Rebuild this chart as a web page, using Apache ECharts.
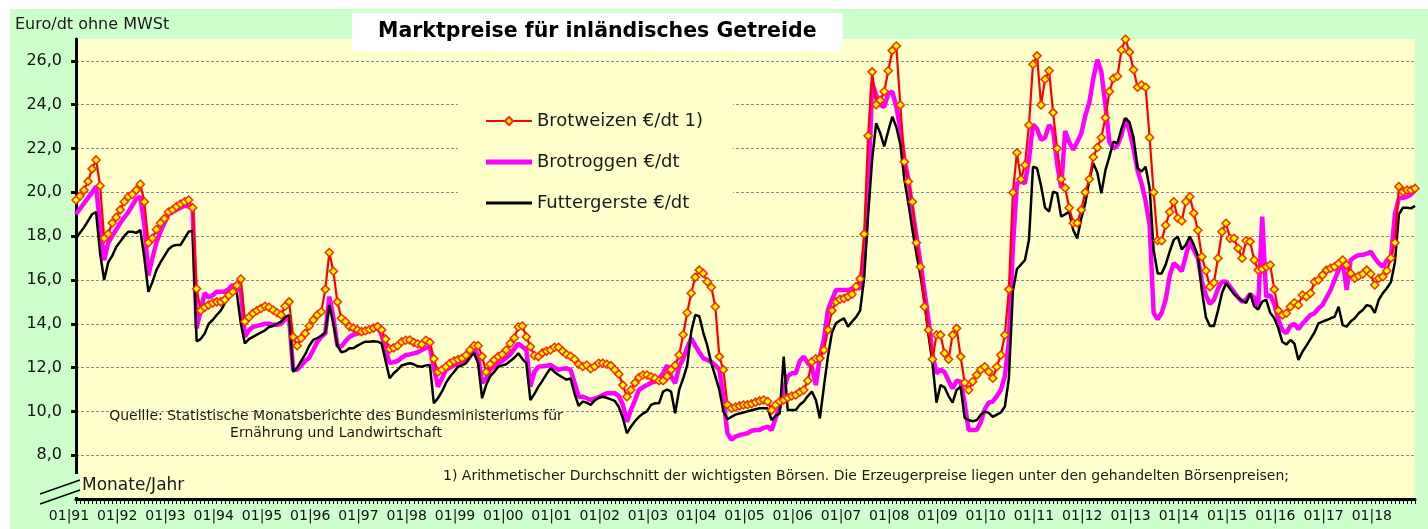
<!DOCTYPE html>
<html>
<head>
<meta charset="utf-8">
<script src="https://cdn.jsdelivr.net/npm/echarts@6/dist/echarts.min.js"></script>
<style>
html,body{margin:0;padding:0;background:#fff;}
#chart{width:1428px;height:529px;}
</style>
</head>
<body>
<div id="chart"></div>
<script>
// ---- data (monthly, Jan 1991 .. Oct 2018) ----
const years = ['91','92','93','94','95','96','97','98','99','00','01','02','03','04','05','06','07','08','09','10','11','12','13','14','15','16','17','18'];
const months = ['01','02','03','04','05','06','07','08','09','10','11','12'];
const yTicks = [8, 10, 12, 14, 16, 18, 20, 22, 24, 26];

const weizen = [
19.65,19.83,20.1,20.5,21.07,21.48,20.3,17.9,18.1,18.6,18.86,19.2,
19.57,19.8,19.9,20.1,20.37,19.57,17.7,17.9,18.3,18.6,18.8,19.1,
19.2,19.35,19.47,19.57,19.65,19.3,15.6,14.6,14.75,14.86,14.95,15.0,
15.0,15.1,15.3,15.46,15.75,16.04,14.1,14.3,14.48,14.6,14.7,14.8,
14.75,14.63,14.5,14.4,14.8,15.0,13.4,13.0,13.34,13.56,13.9,14.17,
14.4,14.55,15.57,17.25,16.4,15.0,14.25,14.1,13.87,13.8,13.72,13.64,
13.68,13.74,13.8,13.87,13.72,13.3,12.85,12.9,13.0,13.18,13.25,13.26,
13.15,13.08,13.05,13.25,13.15,12.4,11.8,11.9,12.04,12.2,12.3,12.37,
12.42,12.56,12.8,13.0,13.0,12.5,11.8,12.15,12.35,12.5,12.6,12.8,
13.1,13.35,13.85,13.9,13.4,12.95,12.55,12.5,12.67,12.75,12.8,12.93,
12.93,12.75,12.6,12.52,12.38,12.15,12.05,12.12,11.95,12.05,12.2,12.2,
12.15,12.09,11.9,11.7,11.2,10.67,10.98,11.3,11.55,11.66,11.66,11.58,
11.51,11.4,11.4,11.6,11.9,12.1,12.57,13.5,14.5,15.39,16.12,16.45,
16.3,15.92,15.67,14.78,12.5,11.9,10.3,10.14,10.2,10.25,10.29,10.3,
10.35,10.42,10.48,10.52,10.45,10.06,10.29,10.45,10.52,10.62,10.7,10.75,
10.88,10.98,11.4,12.27,12.4,12.42,12.8,13.72,14.6,15.0,15.12,15.16,
15.24,15.35,15.7,16.05,18.1,22.58,25.5,24.0,24.2,24.6,25.55,26.47,
26.68,23.99,21.4,20.49,19.57,17.7,16.6,14.78,13.72,12.38,13.49,13.49,
12.65,12.38,13.49,13.79,12.5,11.31,10.98,11.36,11.66,11.9,12.04,11.81,
11.51,12.04,12.57,13.49,15.57,19.99,21.81,20.6,21.25,23.07,25.85,26.23,
23.99,25.16,25.55,23.64,22.0,20.6,20.2,19.3,18.6,18.6,19.2,20.0,
20.6,21.6,22.05,22.5,23.4,24.6,25.2,25.3,26.5,26.99,26.4,25.6,
24.8,24.9,24.8,22.5,20.0,17.8,17.79,18.5,19.1,19.57,18.82,18.69,
19.57,19.8,19.05,18.27,17.06,16.42,15.69,15.87,16.99,18.2,18.59,17.9,
17.9,17.45,16.99,17.79,17.75,16.91,16.45,16.5,16.6,16.68,15.57,14.6,
14.4,14.48,14.78,14.96,14.86,15.31,15.24,15.39,15.92,16.0,16.23,16.45,
16.53,16.6,16.75,16.91,16.68,16.3,16.08,16.18,16.27,16.45,16.27,15.77,
16.08,16.15,16.42,17.0,17.7,20.26,20.03,20.1,20.1,20.18
];

const roggen = [
19.0,19.25,19.5,19.75,20.0,20.26,18.5,16.9,17.7,18.0,18.3,18.6,
18.85,19.1,19.4,19.7,19.8,18.5,16.2,17.0,17.7,18.2,18.6,19.0,
19.1,19.2,19.3,19.4,19.35,19.3,13.8,14.6,15.4,15.2,15.3,15.46,
15.46,15.46,15.6,15.77,15.6,15.5,13.4,13.7,13.85,13.9,13.95,14.0,
14.0,13.95,13.95,14.0,14.2,14.3,11.9,11.9,12.1,12.3,12.45,12.8,
13.18,13.4,13.56,15.24,14.3,13.0,12.95,13.2,13.4,13.5,13.55,13.6,
13.64,13.7,13.8,13.87,13.49,12.8,12.2,12.25,12.3,12.45,12.57,12.6,
12.65,12.7,12.8,12.9,12.95,12.0,11.13,11.5,11.9,12.0,12.1,12.15,
12.2,12.27,12.5,12.88,12.5,11.3,11.5,11.9,12.05,12.2,12.3,12.45,
12.6,12.85,13.1,12.95,12.8,11.13,11.8,12.04,12.06,12.08,12.12,12.0,
11.9,11.95,11.97,11.9,11.3,10.67,10.67,10.6,10.52,10.58,10.65,10.75,
10.83,10.83,10.83,10.7,10.3,9.53,10.06,10.5,10.98,11.1,11.2,11.3,
11.36,11.5,11.74,12.1,11.6,11.28,12.04,12.4,12.9,13.34,13.0,12.7,
12.42,12.35,12.25,12.1,11.9,10.6,9.0,8.7,8.85,8.92,8.96,9.0,
9.12,9.15,9.15,9.25,9.3,9.15,9.7,10.2,11.0,11.6,11.74,11.74,
12.3,12.5,12.2,12.04,11.2,12.5,13.3,14.63,15.1,15.54,15.54,15.54,
15.54,15.6,15.69,15.6,17.0,19.8,24.98,24.44,24.0,23.9,24.5,24.6,
23.91,22.9,21.5,20.6,19.2,18.0,16.8,15.5,14.2,12.6,11.74,11.9,
11.8,11.4,11.05,11.4,11.36,10.37,9.15,9.15,9.15,9.5,10.1,10.4,
10.45,10.7,10.98,11.6,13.2,17.5,20.4,20.5,20.41,21.5,23.1,22.9,
22.4,22.5,23.07,22.85,21.3,20.2,22.8,22.3,21.95,22.3,22.69,23.5,
24.1,25.2,26.05,25.5,23.99,22.3,22.0,22.15,22.6,23.38,22.8,22.0,
21.0,20.4,19.6,18.5,14.5,14.2,14.5,15.1,16.2,16.76,16.6,16.4,
17.1,17.83,17.37,17.0,15.92,15.3,14.9,15.1,15.6,15.92,15.92,15.7,
15.45,15.2,15.01,15.1,15.35,15.2,14.8,18.89,15.24,15.3,14.9,14.2,
13.72,13.57,13.9,14.0,13.75,14.0,14.2,14.4,14.48,14.7,14.86,15.2,
15.54,16.0,16.45,16.91,15.54,16.91,17.05,17.14,17.14,17.2,17.29,17.0,
16.76,16.6,16.9,16.99,19.0,19.73,19.75,19.8,19.9,20.1
];

const gerste = [
17.9,18.15,18.4,18.7,19.0,19.1,17.2,16.0,16.8,17.1,17.5,17.75,
18.0,18.2,18.2,18.15,18.28,17.0,15.46,15.9,16.45,16.8,17.1,17.4,
17.55,17.6,17.6,17.9,18.2,18.25,13.2,13.3,13.55,14.0,14.17,14.4,
14.6,14.93,15.3,15.6,15.4,14.0,13.1,13.3,13.4,13.5,13.6,13.7,
13.85,13.9,14.0,14.1,14.3,14.4,11.8,12.0,12.3,12.6,13.0,13.26,
13.35,13.45,13.6,14.86,14.0,13.0,12.7,12.75,12.88,12.88,13.0,13.1,
13.18,13.18,13.2,13.18,13.1,12.3,11.51,11.74,11.9,12.1,12.15,12.2,
12.15,12.06,12.04,12.1,12.12,10.37,10.6,10.9,11.3,11.58,11.8,12.04,
12.1,12.2,12.5,12.65,12.2,10.6,11.2,11.6,11.8,12.04,12.1,12.15,
12.3,12.45,12.65,12.4,12.2,10.52,10.8,11.13,11.4,11.7,11.97,11.8,
11.66,11.55,11.45,11.5,10.8,10.25,10.45,10.4,10.3,10.5,10.62,10.67,
10.62,10.55,10.48,10.2,9.7,9.0,9.3,9.55,9.75,9.9,10.0,10.3,
10.37,10.37,10.9,11.0,10.9,9.91,10.98,11.5,12.1,13.64,14.4,14.35,
13.6,13.0,12.2,11.6,10.98,10.0,9.65,9.75,9.85,9.9,9.95,10.0,
10.05,10.1,10.14,10.14,10.14,9.6,9.8,9.91,12.5,10.06,10.06,10.06,
10.3,10.45,10.7,10.9,10.52,9.68,11.13,12.5,13.6,14.02,14.15,14.25,
13.87,14.1,14.3,14.6,16.07,19.0,21.5,23.16,22.7,22.1,22.8,23.45,
22.99,22.2,20.6,19.5,18.3,17.2,16.2,15.0,13.5,12.2,10.4,11.2,
11.1,10.7,10.4,10.98,11.13,9.7,9.6,9.55,9.6,9.85,9.99,9.93,
9.75,9.85,9.95,10.22,11.5,15.5,16.5,16.7,16.91,17.83,21.17,21.1,
20.3,19.3,19.12,20.03,19.96,18.89,19.0,19.12,18.28,17.9,18.8,19.5,
20.56,21.33,20.9,19.96,21.0,21.63,22.31,22.24,22.9,23.38,23.2,22.5,
21.1,20.95,21.17,20.2,17.37,16.3,16.3,16.7,17.3,17.83,17.98,17.4,
17.6,17.98,17.6,17.1,15.5,14.3,13.9,13.9,14.6,15.4,15.85,15.6,
15.35,15.2,15.05,14.95,15.39,14.8,14.65,15.01,15.09,14.5,14.25,13.8,
13.18,13.05,13.26,13.1,12.35,12.72,13.0,13.3,13.6,14.02,14.1,14.17,
14.25,14.32,14.78,13.94,13.87,14.1,14.25,14.48,14.63,14.85,14.8,14.5,
15.1,15.4,15.62,15.9,16.8,19.0,19.3,19.3,19.27,19.38
];

const nameW = 'Brotweizen €/dt 1)';
const nameR = 'Brotroggen €/dt';
const nameG = 'Futtergerste €/dt';

// month categories "MM|YY"
const categories = [];
years.forEach(function (y) {
  months.forEach(function (m) {
    if (categories.length < weizen.length) categories.push(m + '|' + y);
  });
});

const FONT = 'DejaVu Sans, Liberation Sans, sans-serif';
const chart = echarts.init(document.getElementById('chart'), null, {renderer: 'canvas'});

chart.setOption({
  animation: false,
  backgroundColor: '#CCFFCC',
  title: [
    {
      text: 'Marktpreise für inländisches Getreide',
      left: 352, top: 13, padding: [8, 26, 8, 26],
      backgroundColor: '#ffffff',
      textStyle: {fontFamily: FONT, fontWeight: 'bold', fontSize: 20.5, lineHeight: 22, color: '#000'}
    },
    {
      text: 'Euro/dt ohne MWSt', left: 15, top: 17, padding: 0,
      textStyle: {fontFamily: FONT, fontWeight: 'normal', fontSize: 16, color: '#1a1a1a'}
    },
    {
      text: 'Quellle: Statistische Monatsberichte des Bundesministeriums für\nErnährung und Landwirtschaft',
      left: 336, top: 408, padding: 0, textAlign: 'center',
      textStyle: {fontFamily: FONT, fontWeight: 'normal', fontSize: 14, lineHeight: 17, color: '#1a1a1a'}
    },
    {
      text: '1) Arithmetischer Durchschnitt der wichtigsten Börsen. Die Erzeugerpreise liegen unter den gehandelten Börsenpreisen;',
      left: 443, top: 469, padding: 0,
      textStyle: {fontFamily: FONT, fontWeight: 'normal', fontSize: 14, color: '#1a1a1a'}
    },
    {
      text: 'Monate/Jahr', left: 82, top: 477, padding: 0,
      textStyle: {fontFamily: FONT, fontWeight: 'normal', fontSize: 17, color: '#1a1a1a'}
    }
  ],
  legend: {
    orient: 'vertical', left: 458, top: 94,
    padding: [18, 30, 18, 27],
    backgroundColor: '#FFFFCC',
    itemWidth: 46, itemHeight: 10, itemGap: 23,
    selectedMode: false,
    textStyle: {fontFamily: FONT, fontSize: 18, color: '#1a1a1a'},
    data: [
      {name: nameW},
      {name: nameR, icon: 'path://M0 0H46V5H0Z'},
      {name: nameG, icon: 'path://M0 0H46V3H0Z'}
    ]
  },
  grid: {
    left: 76, top: 39, width: 1339, height: 460,
    show: true, backgroundColor: '#FFFFCC', borderWidth: 0
  },
  xAxis: {
    type: 'category', data: categories, boundaryGap: false,
    axisLine: {show: true, lineStyle: {color: '#000', width: 3}},
    axisTick: {show: true, interval: 0, length: 5, lineStyle: {color: '#000', width: 1}},
    axisLabel: {
      interval: 11, margin: 10, padding: [0, 14, 0, 0],
      fontFamily: FONT, fontSize: 14, color: '#111'
    },
    splitLine: {show: false}
  },
  yAxis: {
    type: 'value', min: 6, max: 27,
    axisLine: {show: true, lineStyle: {color: '#000', width: 3}},
    axisTick: {show: true, customValues: yTicks, length: 5, lineStyle: {color: '#000', width: 3}},
    axisLabel: {
      customValues: yTicks, margin: 14,
      formatter: function (v) { return v.toFixed(1).replace('.', ','); },
      fontFamily: FONT, fontSize: 16, color: '#111'
    },
    splitLine: {show: true, lineStyle: {color: '#8a8a8a', width: 1, type: [3, 2]}}
  },
  graphic: [
    {type: 'rect', shape: {x: 0, y: 0, width: 1428, height: 9}, style: {fill: '#ffffff'}, z: 100},
    {type: 'rect', shape: {x: 0, y: 0, width: 10, height: 529}, style: {fill: '#ffffff'}, z: 100},
    {type: 'rect', shape: {x: 60, y: 474, width: 20, height: 23}, style: {fill: '#CCFFCC'}, z: 100},
    {type: 'line', shape: {x1: 40, y1: 494, x2: 80, y2: 480}, style: {stroke: '#000', lineWidth: 1.5}, z: 101},
    {type: 'line', shape: {x1: 40, y1: 504, x2: 80, y2: 490}, style: {stroke: '#000', lineWidth: 1.5}, z: 101}
  ],
  series: [
    {
      name: nameR, type: 'line', data: roggen, symbol: 'none',
      lineStyle: {color: '#FF00FF', width: 4.5}, itemStyle: {color: '#FF00FF'}, z: 2
    },
    {
      name: nameG, type: 'line', data: gerste, symbol: 'none',
      lineStyle: {color: '#000000', width: 2.5}, itemStyle: {color: '#000000'}, z: 3
    },
    {
      name: nameW, type: 'line', data: weizen,
      symbol: 'diamond', symbolSize: 8, showSymbol: true, showAllSymbol: true,
      lineStyle: {color: '#FF0000', width: 2.2},
      itemStyle: {color: '#FFFF00', borderColor: '#FF2A00', borderWidth: 1.5}, z: 4
    }
  ]
});
</script>
</body>
</html>
